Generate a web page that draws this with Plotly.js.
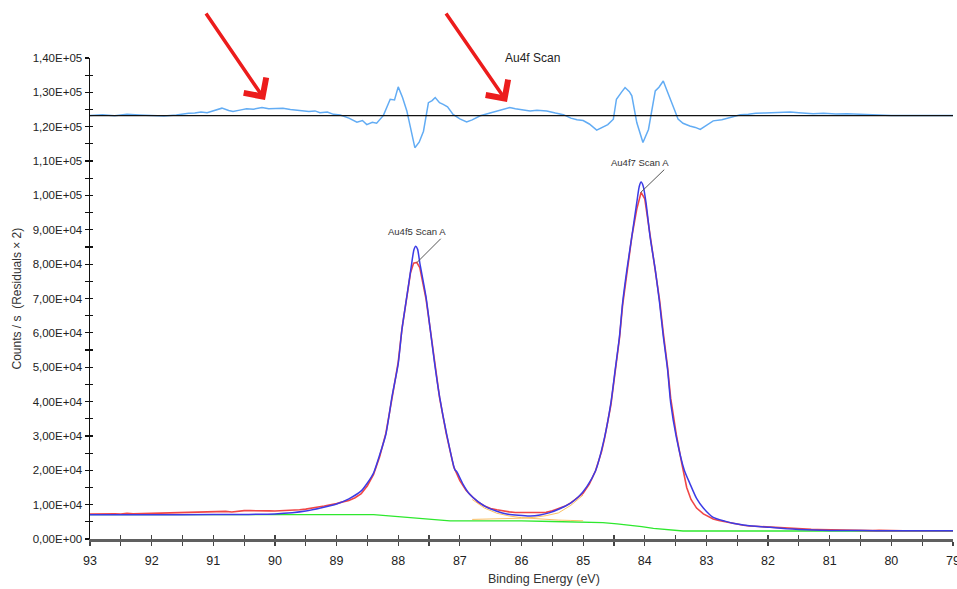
<!DOCTYPE html>
<html>
<head>
<meta charset="utf-8">
<script src="https://cdn.plot.ly/plotly-3.0.1.min.js"></script>
<style>
html,body{margin:0;padding:0;background:#fff;}
#chart{width:957px;height:589px;}
</style>
</head>
<body>
<div id="chart"></div>
<script>
// ---- Data (binding energy in eV, counts/s) ----
// Raw spectrum (red)
const eRaw = [93.0,92.9,92.8,92.7,92.6,92.5,92.4,92.3,92.2,92.1,92.0,91.9,91.8,91.7,91.6,91.5,91.4,91.3,91.2,91.1,91.0,90.9,90.8,90.7,90.6,90.5,90.4,90.3,90.2,90.1,90.0,89.9,89.8,89.7,89.6,89.5,89.4,89.3,89.2,89.1,89.0,88.9,88.8,88.7,88.6,88.5,88.4,88.3,88.2,88.1,88.0,87.94,87.86,87.8,87.75,87.7,87.65,87.55,87.48,87.41,87.33,87.22,87.1,87.0,86.9,86.8,86.7,86.6,86.5,86.4,86.3,86.2,86.1,86.0,85.9,85.8,85.7,85.6,85.5,85.4,85.3,85.2,85.1,85.0,84.9,84.8,84.7,84.65,84.55,84.48,84.41,84.36,84.29,84.21,84.13,84.06,84.0,83.92,83.83,83.76,83.7,83.63,83.58,83.49,83.4,83.32,83.25,83.16,83.05,82.95,82.89,82.8,82.7,82.6,82.5,82.4,82.3,82.2,82.1,82.0,81.9,81.8,81.7,81.6,81.5,81.4,81.3,81.2,81.1,81.0,80.9,80.8,80.7,80.6,80.5,80.4,80.3,80.2,80.1,80.0,79.9,79.8,79.5,79.0];
const cRaw = [7250,7300,7200,7350,7300,7250,7450,7300,7350,7300,7400,7350,7500,7450,7550,7500,7600,7700,7650,7900,7800,8000,8050,7850,8100,8250,8250,8300,8150,8200,8150,8200,8400,8250,8500,8700,8900,9300,9600,9900,10300,10800,11200,12000,13200,15500,18800,24000,30800,41000,51500,61000,70000,77500,80300,80500,79000,70000,61000,51000,41200,30600,21000,17000,14200,12300,10700,9600,8900,8500,8100,7900,7700,7750,7600,7700,7800,7750,8200,8800,9500,10500,11800,13300,16000,19800,25500,29500,39000,49000,58500,68000,78000,88000,96000,100900,99000,89000,79000,69500,60000,50000,41000,30500,22000,15000,11500,9000,7300,6300,5800,5400,5000,4600,4300,4000,3800,3700,3500,3400,3300,3100,3050,2900,2950,2850,2800,2750,2700,2650,2600,2650,2550,2600,2500,2550,2450,2500,2450,2420,2450,2400,2420,2420];

// Fit envelope (blue)
const eEnv = [93.0,92.0,91.0,90.5,90.0,89.5,89.0,88.8,88.6,88.5,88.4,88.3,88.2,88.1,88.0,87.94,87.86,87.78,87.745,87.715,87.685,87.65,87.55,87.48,87.41,87.33,87.22,87.08,87.05,86.95,86.84,86.7,86.56,86.4,86.24,86.05,85.86,85.7,85.54,85.38,85.21,85.08,84.94,84.8,84.65,84.55,84.48,84.41,84.36,84.29,84.21,84.13,84.09,84.06,84.025,83.98,83.915,83.83,83.76,83.7,83.63,83.58,83.49,83.36,83.27,83.16,83.05,82.89,82.7,82.57,82.4,82.2,81.97,81.7,81.5,81.27,81.0,80.5,80.0,79.0];
const cEnv = [7080,7080,7100,7150,7300,8150,10200,11700,14000,16300,19200,24500,30500,41500,51000,60900,70600,80400,84200,85200,84300,80400,70600,60900,51200,41500,31000,20100,19600,16000,13000,10800,9200,8100,7300,6900,6700,7000,7670,8800,10400,12200,15250,19800,29800,39600,49300,59000,68700,78400,88100,97900,102600,103900,102700,97900,88100,78400,68700,59000,49300,39600,29800,20100,16200,11800,9000,6300,5200,4600,4100,3700,3400,3000,2800,2620,2500,2450,2420,2420];

// Background (green)
const eBg = [93.0,90.0,89.0,88.5,88.4,88.2,88.0,87.7,87.43,87.16,86.8,86.4,86.0,85.5,85.0,84.68,84.45,84.24,84.05,83.86,83.59,83.38,82.0,80.0,79.0];
const cBg = [7080,7080,7150,7100,7080,6800,6500,6000,5540,5250,5250,5300,5250,5100,5000,4760,4400,4080,3600,3110,2620,2330,2330,2330,2330];

// Component curves visible in the valley (orange)
const eComp = [86.8,86.6,86.4,86.2,86.0,85.8,85.6,85.4,85.2,85.0];
const cComp5 = [11500,9000,7500,6700,6200,5900,5650,5500,5400,5300];
const cComp7 = [5700,5750,5800,5900,6050,6300,6800,7600,9800,12800];

// Residuals x 2, offset (light blue)
const eRes = [93.0,92.8,92.6,92.4,92.2,92.0,91.8,91.6,91.5,91.4,91.3,91.2,91.1,91.0,90.9,90.86,90.75,90.68,90.55,90.46,90.35,90.21,90.1,90.0,89.87,89.75,89.59,89.45,89.35,89.27,89.15,89.05,88.94,88.8,88.67,88.58,88.51,88.42,88.35,88.24,88.13,88.06,88.0,87.93,87.86,87.81,87.73,87.66,87.59,87.51,87.45,87.4,87.33,87.27,87.2,87.11,87.0,86.89,86.8,86.67,86.55,86.4,86.3,86.19,86.1,86.0,85.86,85.75,85.59,85.45,85.32,85.2,85.1,85.0,84.9,84.78,84.7,84.6,84.51,84.46,84.38,84.32,84.25,84.21,84.13,84.03,83.94,83.88,83.83,83.77,83.7,83.65,83.59,83.52,83.46,83.38,83.27,83.18,83.1,83.0,82.89,82.75,82.62,82.45,82.32,82.2,82.05,81.91,81.8,81.64,81.5,81.4,81.27,81.1,80.9,80.72,80.5,80.35,80.2,80.0,79.5,79.0];
const cRes = [123300,123500,123200,123600,123400,123300,123100,123400,123700,123900,124000,124300,124100,124600,125000,125400,124700,124400,124900,125200,125100,125600,125200,125300,125400,125000,124700,124400,124600,124100,124300,123600,123400,122500,121300,121800,120600,121300,121000,123300,128000,127800,131600,128500,124600,120200,113900,115500,118700,127000,127600,128500,127000,126500,125800,123600,122300,121400,122000,123200,123800,124600,125000,125600,125200,125000,124600,124800,124600,124000,123500,122500,122000,121800,120800,119000,119800,120600,122200,128000,130000,131400,130200,129000,121200,115400,119200,126000,130400,131500,133300,131000,128000,125000,122200,121000,120200,119800,119200,120500,121700,122000,122700,123500,123600,123900,124000,124100,124200,124300,124100,123900,123800,123900,123700,123800,123600,123500,123400,123300,123300,123300];

// Residual zero line
const eZero = [93.0, 79.0];
const cZero = [123250, 123250];

// Axis ticks and labels
const xTickVals = [93,92.5,92,91.5,91,90.5,90,89.5,89,88.5,88,87.5,87,86.5,86,85.5,85,84.5,84,83.5,83,82.5,82,81.5,81,80.5,80,79.5,79];
const xTickText = ['93','','92','','91','','90','','89','','88','','87','','86','','85','','84','','83','','82','','81','','80','','79'];
const yTickVals = [0,5000,10000,15000,20000,25000,30000,35000,40000,45000,50000,55000,60000,65000,70000,75000,80000,85000,90000,95000,100000,105000,110000,115000,120000,125000,130000,135000,140000];
const yTickText = ['0,00E+00','','1,00E+04','','2,00E+04','','3,00E+04','','4,00E+04','','5,00E+04','','6,00E+04','','7,00E+04','','8,00E+04','','9,00E+04','','1,00E+05','','1,10E+05','','1,20E+05','','1,30E+05','','1,40E+05'];

// Labels
const titleText = 'Au4f Scan';
const xTitle = 'Binding Energy (eV)';
const yTitle = 'Counts / s&nbsp;&nbsp;(Residuals × 2)';
const peakLabels = ['Au4f5 Scan A', 'Au4f7 Scan A'];
const peakE = [87.70, 84.07];
const peakC = [80400, 100800];

// ---- Traces ----
const FONT = 'Liberation Sans, Arial, sans-serif';
const traces = [
  {x: eRes, y: cRes, type: 'scatter', mode: 'lines', line: {color: '#62acf4', width: 1.5}, hoverinfo: 'skip'},
  {x: eBg, y: cBg, type: 'scatter', mode: 'lines', line: {color: '#2ee82e', width: 1.3}, hoverinfo: 'skip'},
  {x: eComp, y: cComp5, type: 'scatter', mode: 'lines', line: {color: '#f7b040', width: 1}, opacity: 0.8, hoverinfo: 'skip'},
  {x: eComp, y: cComp7, type: 'scatter', mode: 'lines', line: {color: '#f7b040', width: 1}, opacity: 0.8, hoverinfo: 'skip'},
  {x: eRaw, y: cRaw, type: 'scatter', mode: 'lines', line: {color: '#f04646', width: 1.6}, hoverinfo: 'skip'},
  {x: eEnv, y: cEnv, type: 'scatter', mode: 'lines', line: {color: '#3b3be6', width: 1.5, shape: 'spline', smoothing: 0.6}, hoverinfo: 'skip'},
  {x: eZero, y: cZero, xaxis: 'x2', yaxis: 'y2', type: 'scatter', mode: 'lines', line: {color: '#111', width: 1.2}, hoverinfo: 'skip'}
];

const tickFontX = {family: FONT, size: 12.5, color: '#222'};
const tickFontY = {family: FONT, size: 11.5, color: '#222'};

const layout = {
  width: 957, height: 589,
  margin: {l: 90, r: 4, t: 58, b: 50, pad: 0},
  paper_bgcolor: '#fff', plot_bgcolor: '#fff',
  showlegend: false,
  font: {family: FONT, color: '#222'},
  xaxis: {
    range: [93, 79], tickmode: 'array', tickvals: xTickVals, ticktext: xTickText,
    ticks: 'outside', ticklen: 4, tickwidth: 1.2, tickcolor: '#444',
    ticklabeloverflow: 'allow', ticklabelstandoff: 4,
    showline: true, linecolor: '#606060', linewidth: 2.5,
    showgrid: false, zeroline: false, tickfont: tickFontX
  },
  yaxis: {
    range: [0, 140000], tickmode: 'array', tickvals: yTickVals, ticktext: yTickText,
    ticks: 'outside', ticklen: 4, tickwidth: 1.2, tickcolor: '#111',
    ticklabeloverflow: 'allow',
    showline: true, linecolor: '#111', linewidth: 1.5,
    showgrid: false, zeroline: false, tickfont: tickFontY
  },
  xaxis2: {
    overlaying: 'x', anchor: 'y2', range: [93, 79], tickmode: 'array', tickvals: xTickVals,
    ticks: 'inside', ticklen: 4, tickwidth: 1.2, tickcolor: '#444',
    showticklabels: false, showline: false, showgrid: false, zeroline: false
  },
  yaxis2: {
    overlaying: 'y', anchor: 'x2', side: 'left', range: [0, 140000], tickmode: 'array', tickvals: yTickVals,
    ticks: 'inside', ticklen: 3, tickwidth: 1.2, tickcolor: '#111',
    showticklabels: false, showline: false, showgrid: false, zeroline: false
  },
  annotations: [
    {xref: 'paper', yref: 'paper', x: 0.5133, y: 1.0, xanchor: 'center', yanchor: 'middle',
     text: titleText, showarrow: false, font: {family: FONT, size: 12, color: '#222'}},
    {xref: 'paper', yref: 'paper', x: 0.526, y: -0.083, xanchor: 'center', yanchor: 'middle',
     text: xTitle, showarrow: false, font: {family: FONT, size: 12.5, color: '#333'}},
    {xref: 'paper', yref: 'paper', x: -0.0846, y: 0.5, xanchor: 'center', yanchor: 'middle', textangle: -90,
     text: yTitle, showarrow: false, font: {family: FONT, size: 12, color: '#333'}},
    {x: peakE[0], y: peakC[0], ax: 31, ay: -31, text: peakLabels[0], xanchor: 'right', yanchor: 'middle',
     showarrow: true, arrowhead: 0, arrowwidth: 1, arrowcolor: '#555', standoff: 0,
     font: {family: FONT, size: 9.5, color: '#333'}},
    {x: peakE[1], y: peakC[1], ax: 31, ay: -30, text: peakLabels[1], xanchor: 'right', yanchor: 'middle',
     showarrow: true, arrowhead: 0, arrowwidth: 1, arrowcolor: '#555', standoff: 0,
     font: {family: FONT, size: 9.5, color: '#333'}},
    {x: 90.161, y: 127775, ax: -60, ay: -88, text: '', showarrow: true,
     arrowhead: 4, arrowsize: 1.5, arrowwidth: 3.5, arrowcolor: '#ec1c1c', standoff: 0},
    {x: 86.235, y: 127193, ax: -62, ay: -90, text: '', showarrow: true,
     arrowhead: 4, arrowsize: 1.5, arrowwidth: 3.5, arrowcolor: '#ec1c1c', standoff: 0}
  ]
};

Plotly.newPlot('chart', traces, layout, {staticPlot: true, displayModeBar: false});
</script>
</body>
</html>
